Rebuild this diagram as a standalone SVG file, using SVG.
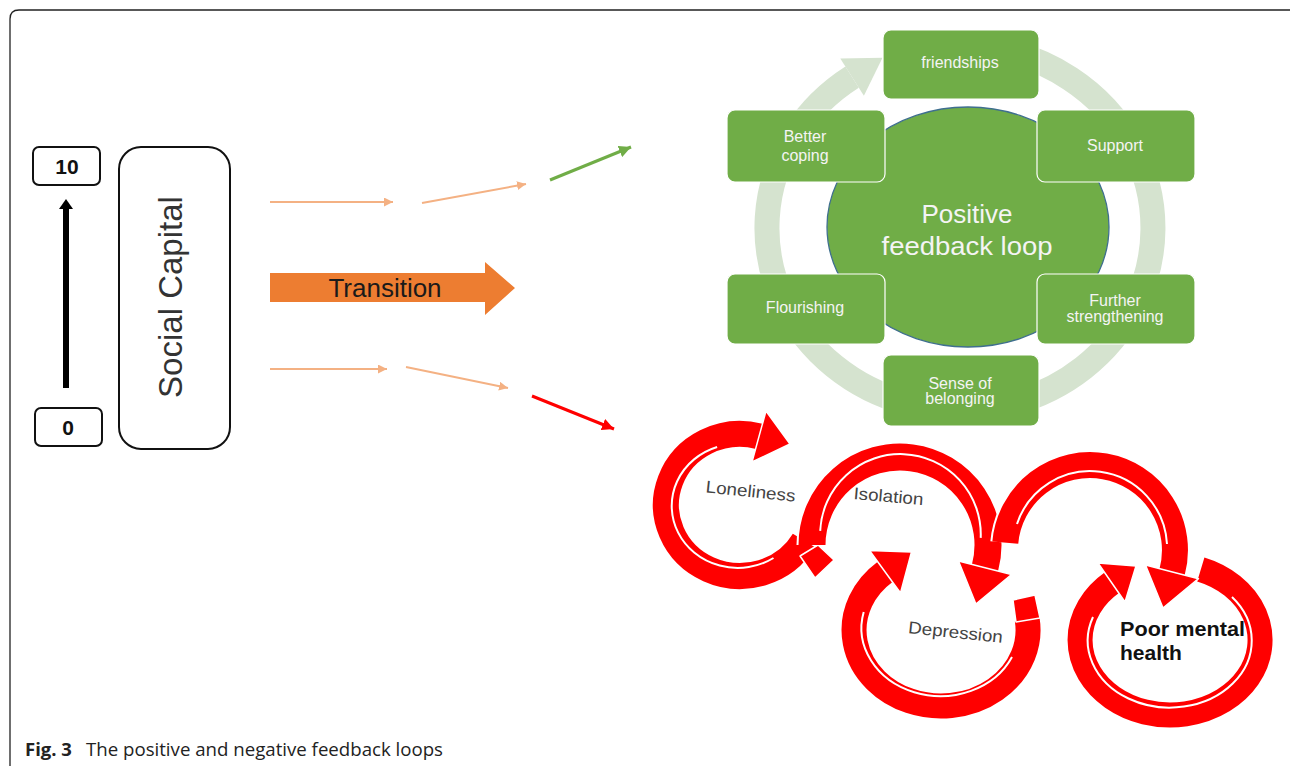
<svg xmlns="http://www.w3.org/2000/svg" width="1290" height="766" viewBox="0 0 1290 766">
<defs>
<style>
.frame{fill:none;stroke:#222;stroke-width:1.3}
.kbox{fill:#fff;stroke:#111;stroke-width:2}
.kt{font-family:"Liberation Sans",Arial,sans-serif;font-weight:bold;font-size:21px;fill:#111;text-anchor:middle}
.sc{font-family:"Liberation Sans",Arial,sans-serif;font-size:33px;fill:#333;text-anchor:middle}
.thin{fill:none;stroke:#F4B183;stroke-width:2}
.gbox{fill:#70AD47;stroke:#fff;stroke-width:1.2}
.gt{font-family:"Liberation Sans",Arial,sans-serif;font-size:16px;fill:#f4f4f4;text-anchor:middle}
.ring{fill:none;stroke:#D5E3CF;stroke-width:25}
.rback{fill:none;stroke:#fff}
.rarc{fill:none;stroke:#FF0000}
.rhead{fill:#FF0000;stroke:#fff;stroke-width:1.5;stroke-linejoin:round}
.wline{fill:none;stroke:#fff;stroke-width:2}
.rt{font-family:"Liberation Sans",Arial,sans-serif;font-size:17px;fill:#444;text-anchor:middle}
.cap{font-family:"Open Sans","Noto Sans",sans-serif;font-size:18.5px;fill:#222}
</style>
<marker id="mo" viewBox="0 0 10 10" refX="10" refY="5" markerWidth="9" markerHeight="9" markerUnits="userSpaceOnUse" orient="auto"><path d="M0,0 L10,5 L0,10 z" fill="#F4B183"/></marker>
<marker id="mg" viewBox="0 0 10 10" refX="10" refY="5" markerWidth="12" markerHeight="12" markerUnits="userSpaceOnUse" orient="auto"><path d="M0,0 L10,5 L0,10 z" fill="#70AD47"/></marker>
<marker id="mr" viewBox="0 0 10 10" refX="10" refY="5" markerWidth="12" markerHeight="12" markerUnits="userSpaceOnUse" orient="auto"><path d="M0,0 L10,5 L0,10 z" fill="#FF0000"/></marker>
</defs>

<rect width="1290" height="766" fill="#fff"/>
<path class="frame" d="M10,766 L10,19 Q10,10 19,10 L1290,10"/>

<g id="scale-10"><rect class="kbox" x="33" y="147" width="67" height="38" rx="6"/><text class="kt" x="67" y="174">10</text></g>
<g id="scale-0"><rect class="kbox" x="35" y="408" width="67" height="38" rx="6"/><text class="kt" x="68" y="435">0</text></g>
<g id="scale-arrow"><line x1="66" y1="388" x2="66" y2="206" stroke="#000" stroke-width="6"/><polygon points="59,209 73,209 66,199" fill="#000"/></g>
<g id="social-capital"><rect class="kbox" x="119" y="147" width="111" height="302" rx="22"/><text class="sc" transform="translate(182,297) rotate(-90)">Social Capital</text></g>

<g id="transition"><polygon points="270,273 485,273 485,262 515,288 485,315 485,302 270,302" fill="#ED7D31"/><text x="385" y="297" font-family="Liberation Sans, Arial, sans-serif" font-size="26" fill="#1a1a1a" text-anchor="middle">Transition</text></g>

<g id="connectors">
<line class="thin" x1="270" y1="202" x2="393" y2="202" marker-end="url(#mo)"/>
<line class="thin" x1="422" y1="203" x2="526" y2="184" marker-end="url(#mo)"/>
<line x1="550" y1="180" x2="631" y2="147" stroke="#70AD47" stroke-width="3" marker-end="url(#mg)"/>
<line class="thin" x1="270" y1="369" x2="387" y2="369" marker-end="url(#mo)"/>
<line class="thin" x1="406" y1="367" x2="508" y2="388" marker-end="url(#mo)"/>
<line x1="532" y1="396" x2="614" y2="429" stroke="#FF0000" stroke-width="3" marker-end="url(#mr)"/>
</g>

<g id="positive-ring">
<path class="ring" d="M993.5,48.8 A193,182 0 1 1 852.1,77.1"/>
<polygon points="882.5,57.8 863.9,95.7 840.3,58.5" fill="#D5E3CF"/>
</g>
<g id="positive-loop">
<ellipse cx="968" cy="227" rx="141" ry="120" fill="#70AD47" stroke="#3f6f8f" stroke-width="1.3"/>
<text x="967" y="223" font-family="Liberation Sans, Arial, sans-serif" font-size="26" fill="#f4f4f4" text-anchor="middle">Positive</text>
<text x="967" y="255" font-family="Liberation Sans, Arial, sans-serif" font-size="26" fill="#f4f4f4" text-anchor="middle" textLength="171" lengthAdjust="spacingAndGlyphs">feedback loop</text>
</g>
<g id="friendships"><rect class="gbox" x="883" y="30" width="156" height="69" rx="8"/><text class="gt" x="960" y="68">friendships</text></g>
<g id="better-coping"><rect class="gbox" x="727" y="110" width="158" height="72" rx="8"/><text class="gt" x="805" y="142">Better</text><text class="gt" x="805" y="161">coping</text></g>
<g id="support"><rect class="gbox" x="1037" y="110" width="158" height="72" rx="8"/><text class="gt" x="1115" y="151">Support</text></g>
<g id="flourishing"><rect class="gbox" x="727" y="274" width="158" height="70" rx="8"/><text class="gt" x="805" y="313">Flourishing</text></g>
<g id="further-strengthening"><rect class="gbox" x="1037" y="274" width="158" height="70" rx="8"/><text class="gt" x="1115" y="306">Further</text><text class="gt" x="1115" y="322">strengthening</text></g>
<g id="sense-of-belonging"><rect class="gbox" x="883" y="355" width="156" height="71" rx="8"/><text class="gt" x="960" y="389">Sense of</text><text class="gt" x="960" y="404">belonging</text></g>

<g id="loneliness">
<path class="rback" stroke-width="30" d="M804,540.5 A74,71 0 1 1 759.2,436.4"/>
<path class="rarc" stroke-width="26" d="M804,540.5 A74,71 0 1 1 759.2,436.4"/>
<path class="wline" d="M773.5,558 A66,62 0 1 1 717.1,447"/>
<polygon class="rhead" points="790,444 752,462 766,411"/>
<polygon class="rhead" points="800,556 818,545 834,560 815,578"/>
<text class="rt" transform="translate(750,497) rotate(6)" textLength="90" lengthAdjust="spacingAndGlyphs">Loneliness</text>
</g>

<g id="depression">
<path class="rback" stroke-width="29" d="M1027.2,619.4 A87,76 0 1 1 885.1,571.8"/>
<path class="rarc" stroke-width="25" d="M1027.2,619.4 A87,76 0 1 1 885.1,571.8"/>
<path class="wline" d="M1012,657 A79,68 0 0 1 863.7,612.1"/>
<polygon class="rhead" points="911.5,552 900.5,593 869.5,550.5"/>
<polygon class="rhead" points="1013,600 1035,595 1040,618 1016,622"/>
<text class="rt" transform="translate(955,638) rotate(6)" textLength="95" lengthAdjust="spacingAndGlyphs">Depression</text>
</g>

<g id="isolation">
<path class="rback" stroke-width="31" d="M812,545 A88,88 0 1 1 985,567.8"/>
<path class="rarc" stroke-width="27" d="M812,545 A88,88 0 1 1 985,567.8"/>
<path class="wline" d="M820.2,530.9 A80,80 0 0 1 980.7,537.9"/>
<polygon class="rhead" points="975.9,604 1011.5,574.5 958.5,561"/>
<text class="rt" transform="translate(888,502) rotate(5)" textLength="70" lengthAdjust="spacingAndGlyphs">Isolation</text>
</g>

<g id="poor-mental-health">
<path class="rback" stroke-width="29" d="M1200.8,569.5 A90,75 0 1 1 1112.1,582.6"/>
<path class="rarc" stroke-width="25" d="M1200.8,569.5 A90,75 0 1 1 1112.1,582.6"/>
<path class="wline" d="M1232,597 A82,67 0 1 1 1093,617"/>
<polygon class="rhead" points="1136,566 1125,602 1098,563"/>
<path class="rback" stroke-width="30" d="M1005.3,542.6 A85,85 0 1 1 1172.1,572"/>
<path class="rarc" stroke-width="26" d="M1005.3,542.6 A85,85 0 1 1 1172.1,572"/>
<path class="wline" d="M1017,524 A77,77 0 0 1 1167,544"/>
<polygon class="rhead" points="1163,608 1198.5,578.7 1145.5,565"/>
<text x="1120" y="636" font-family="Liberation Sans, Arial, sans-serif" font-weight="bold" font-size="21" fill="#111" textLength="125" lengthAdjust="spacingAndGlyphs">Poor mental</text>
<text x="1120" y="660" font-family="Liberation Sans, Arial, sans-serif" font-weight="bold" font-size="21" fill="#111">health</text>
</g>

<g id="caption">
<text class="cap" x="25" y="756"><tspan font-weight="bold">Fig. 3</tspan><tspan x="86" textLength="357" lengthAdjust="spacingAndGlyphs">The positive and negative feedback loops</tspan></text>
</g>
</svg>
